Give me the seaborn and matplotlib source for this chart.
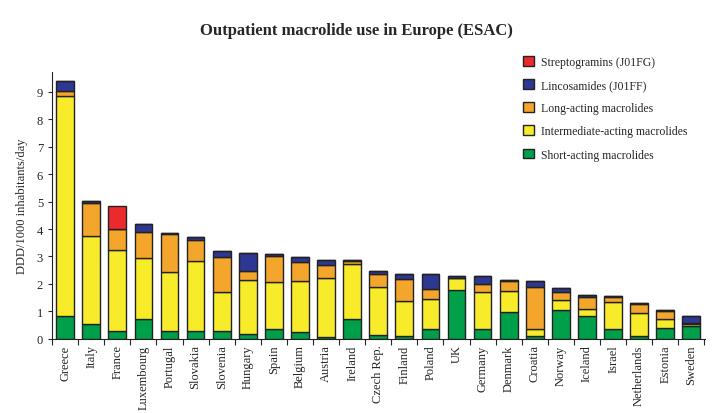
import matplotlib
matplotlib.use("Agg")
import matplotlib.pyplot as plt
import numpy as np
import seaborn as sns

countries = ["Greece", "Italy", "France", "Luxembourg", "Portugal", "Slovakia", "Slovenia",
             "Hungary", "Spain", "Belgium", "Austria", "Ireland", "Czech Rep.", "Finland",
             "Poland", "UK", "Germany", "Denmark", "Croatia", "Norway", "Iceland", "Israel",
             "Netherlands", "Estonia", "Sweden"]

# stacked series, bottom to top (DDD/1000 inhabitants/day)
short_acting = [0.83, 0.53, 0.28, 0.73, 0.28, 0.28, 0.28, 0.17, 0.35, 0.24, 0.06, 0.73, 0.13,
                0.10, 0.35, 1.77, 0.35, 0.97, 0.10, 1.04, 0.83, 0.35, 0.10, 0.39, 0.46]
intermediate = [8.00, 3.21, 2.95, 2.21, 2.15, 2.55, 1.42, 1.97, 1.71, 1.87, 2.15, 1.99, 1.75,
                1.27, 1.09, 0.46, 1.35, 0.77, 0.25, 0.37, 0.25, 0.98, 0.83, 0.33, 0.07]
long_acting = [0.21, 1.20, 0.76, 0.94, 1.38, 0.76, 1.27, 0.32, 0.97, 0.68, 0.47, 0.11, 0.47,
               0.80, 0.37, 0.00, 0.29, 0.36, 1.53, 0.29, 0.44, 0.19, 0.33, 0.29, 0.04]
lincosamides = [0.34, 0.07, 0.00, 0.31, 0.05, 0.12, 0.22, 0.67, 0.06, 0.18, 0.18, 0.03, 0.11,
                0.18, 0.54, 0.05, 0.29, 0.04, 0.22, 0.14, 0.07, 0.03, 0.04, 0.03, 0.26]
streptogramins = [0.00, 0.00, 0.85, 0.00, 0.00, 0.00, 0.00, 0.00, 0.00, 0.00, 0.00, 0.00, 0.00,
                  0.00, 0.00, 0.00, 0.00, 0.00, 0.00, 0.00, 0.00, 0.00, 0.00, 0.00, 0.00]

series = [
    ("Short-acting macrolides", short_acting, "#00a04b"),
    ("Intermediate-acting macrolides", intermediate, "#f8ec2a"),
    ("Long-acting macrolides", long_acting, "#f4a52c"),
    ("Lincosamides (J01FF)", lincosamides, "#2e3791"),
    ("Streptogramins (J01FG)", streptogramins, "#ec2a2e"),
]

sns.set_style("ticks")
plt.rcParams["font.family"] = ["Liberation Serif", "DejaVu Serif"]

fig = plt.figure(figsize=(7.13, 4.14), dpi=100)
ax = fig.add_axes([0.073, 0.179, 0.916, 0.645])

bottom = np.zeros(len(countries))
for label, vals, col in series:
    vals = np.array(vals)
    sns.barplot(x=countries, y=vals, bottom=bottom, color=col, width=0.68,
                edgecolor="#222222", linewidth=1.0, label=label, ax=ax,
                saturation=1)
    bottom = bottom + vals

ax.set_xlim(-0.48, len(countries) - 0.47)
ax.set_ylim(0, 9.72)
ax.set_yticks(range(10))
ax.tick_params(axis="y", labelsize=9, length=3, width=0.8, direction="out")
ax.tick_params(axis="x", which="major", length=0, labelsize=9, rotation=90, pad=4)
ax.set_xticks(np.arange(len(countries) + 1) - 0.5, minor=True)
ax.tick_params(axis="x", which="minor", length=4, width=0.8, direction="out")
for s in ["top", "right"]:
    ax.spines[s].set_visible(False)
for s in ["left", "bottom"]:
    ax.spines[s].set_linewidth(0.8)
    ax.spines[s].set_color("#222222")

ax.set_ylabel("DDD/1000 inhabitants/day", fontsize=9, labelpad=6)
ax.set_xlabel("")
fig.suptitle("Outpatient macrolide use in Europe (ESAC)", fontsize=12, fontweight="bold", y=0.945)

handles, labels = ax.get_legend_handles_labels()
ax.legend(handles[::-1], labels[::-1], loc="upper left", bbox_to_anchor=(0.705, 1.1),
          frameon=False, fontsize=8.5, handlelength=0.9, handleheight=0.9,
          labelspacing=0.95, handletextpad=0.6)

fig.savefig("out.png", dpi=100)
